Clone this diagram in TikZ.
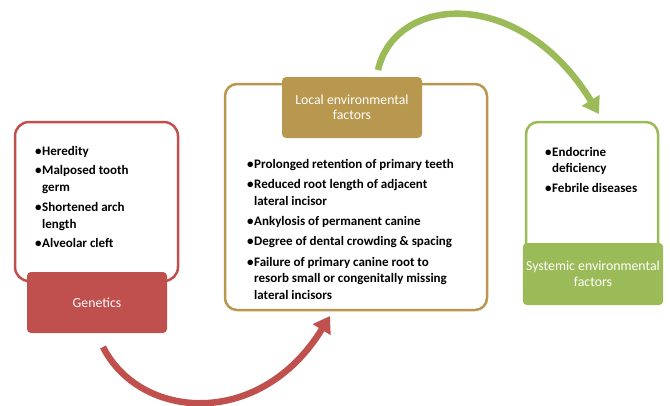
\documentclass[tikz,border=0pt]{standalone}
\usepackage{fontspec}
\setmainfont{Carlito}
\newfontfamily\bulletfont{Carlito Bold}
\newfontfamily\headfont{Carlito}
\usetikzlibrary{arrows.meta}
\definecolor{redc}{HTML}{C0504D}
\definecolor{goldc}{HTML}{B8974E}
\definecolor{greenc}{HTML}{9BBB59}
\newcommand{\bitem}[1]{\hangindent=7pt\hangafter=1\noindent\makebox[7pt][l]{•}#1\par}
\tikzset{
  outerbox/.style={draw, line width=2.5pt, rounded corners=12pt, fill=white},
  fillbox/.style={rounded corners=4pt, text=white, font=\headfont\fontsize{13.8}{15.5}\selectfont, align=center},
  bullets/.style={anchor=north west, inner sep=0pt, align=left, font=\bulletfont\fontsize{13}{16.5}\selectfont},
  redarrow/.style={line width=6.5pt, draw=redc, -{Triangle[length=16pt,width=20pt,fill=redc]}},
  greenarrow/.style={line width=6.5pt, draw=greenc, -{Triangle[length=16pt,width=20pt,fill=greenc]}},
}
\begin{document}
\begin{tikzpicture}[x=1pt,y=-1pt]
\useasboundingbox (0,0) rectangle (670,405);
% red group
\draw[outerbox, draw=redc, rounded corners=14pt] (15,122) rectangle (178,281);
\node[fillbox, fill=redc, minimum width=140pt, minimum height=61pt] (genetics) at (97,302.5) {Genetics};
\node[bullets] (redlist) at (35,146) {\parbox{130pt}{\baselineskip=17pt\parskip=2.5pt
\bitem{Heredity}
\bitem{Malposed tooth\\germ}
\bitem{Shortened arch\\length}
\bitem{Alveolar cleft}}};
% gold group
\draw[outerbox, draw=goldc] (225,84) rectangle (487,310);
\node[fillbox, fill=goldc, minimum width=140pt, minimum height=61pt] (local) at (352,107.5) {Local environmental\\factors};
\node[bullets] (goldlist) at (247,159) {\parbox{235pt}{\parskip=3.8pt
\bitem{Prolonged retention of primary teeth}
\bitem{Reduced root length of adjacent\\lateral incisor}
\bitem{Ankylosis of permanent canine}
\bitem{Degree of dental crowding \& spacing}
\bitem{Failure of primary canine root to\\resorb small or congenitally missing\\lateral incisors}}};
% green group
\draw[outerbox, draw=greenc] (526,122) rectangle (658,260);
\node[fillbox, fill=greenc, minimum width=140pt, minimum height=62pt] (systemic) at (593,274) {Systemic environmental\\factors};
\node[bullets] (greenlist) at (545,147) {\parbox{110pt}{\parskip=3.5pt
\bitem{Endocrine\\deficiency}
\bitem{Febrile diseases}}};
% arrows
\coordinate (rs) at (103,347);
\coordinate (re) at (330,316);
\coordinate (gs) at (378,70);
\coordinate (ge) at (599,114);
\draw[redarrow] (rs) .. controls (140,420) and (260,430) .. (re);
\draw[greenarrow] (gs) .. controls (395,-5) and (520,-15) .. (ge);
\end{tikzpicture}
\end{document}
